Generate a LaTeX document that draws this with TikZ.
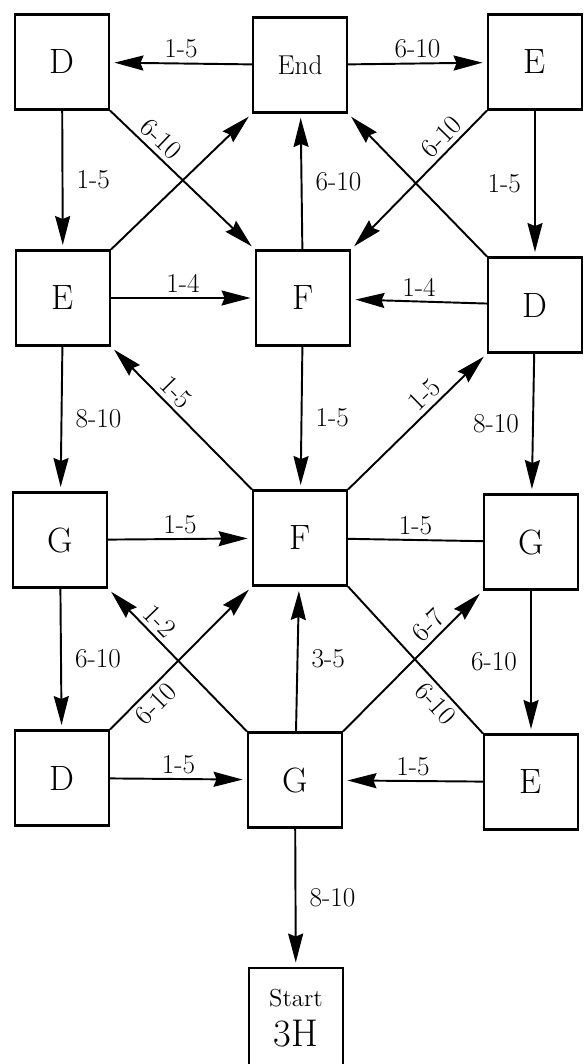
\documentclass[tikz,border=0pt]{standalone}
\usepackage{tikz}
\usetikzlibrary{arrows.meta}

\begin{document}
\begin{tikzpicture}[x=0.02cm, y=-0.02cm,
    box/.style={draw, line width=1.2pt, minimum width=1.88cm, minimum height=1.9cm,
        inner sep=0pt, font=\fontsize{20}{22}\selectfont},
    go/.style={line width=1.1pt, -{Stealth[length=0.58cm, width=0.3cm, inset=0.06cm]}, shorten >=2.5pt},
    link/.style={line width=1.1pt},
    tag/.style={font=\fontsize{15.5}{17}\selectfont, inner sep=0pt, outer xsep=8pt, outer ysep=3pt}]

\useasboundingbox (0,0) rectangle (583,1064);

\foreach \n/\x/\y/\t in {a1/62/62/D, c1/535/62/E,
        a2/63/298/E, b2/303/298/F, c2/535/305/D,
        a3/60/540/G, b3/300/538/F, c3/531/542/G,
        a4/62/778/D, b4/295/780/G, c4/531/782/E}
    \node [box] (\n) at (\x,\y) {\t};

\node [box, font=\fontsize{15.5}{18}\selectfont] (b1) at (300,65) {End};
\node [box, minimum height=2cm, align=center] (b5) at (296,1018)
    {\fontsize{14}{16}\selectfont Start\\[1pt]\fontsize{22}{24}\selectfont 3H};

% straight moves
\foreach \s/\e/\t/\a in {b1/a1/1-5/south, b1/c1/6-10/south,
        a1/a2/1-5/west, c1/c2/1-5/east, b2/b1/6-10/west,
        a2/b2/1-4/south, c2/b2/1-4/south,
        a2/a3/8-10/west, b2/b3/1-5/west, c2/c3/8-10/east,
        a3/b3/1-5/south,
        a3/a4/6-10/west, b4/b3/3-5/west, c3/c4/6-10/east,
        a4/b4/1-5/south, c4/b4/1-5/south,
        b4/b5/8-10/west}
    \draw [go] (\s) -- node [tag, anchor=\a] {\t} (\e);

% diagonal moves
\foreach \s/\e/\t/\p/\a in {a1.south east/b2.north west/6-10/0.28/south,
        c1.south west/b2.north east/6-10/0.26/south,
        b3.north west/a2.south east/1-5/0.61/south,
        b3.north east/c2.south west/1-5/0.62/south,
        b4.north west/a3.south east/1-2/0.70/south,
        a4.north east/b3.south west/6-10/0.25/north,
        b4.north east/c3.south west/6-7/0.68/south}
    \draw [go] (\s) -- node [tag, sloped, pos=\p, anchor=\a] {\t} (\e);

\draw [go] (a2.north east) -- (b1.south west);
\draw [go] (c2.north west) -- (b1.south east);

% no arrow heads here
\draw [link] (b3) -- node [tag, anchor=south] {1-5} (c3);
\draw [link] (b3.south east) -- node [tag, sloped, pos=0.73, anchor=north] {6-10} (c4.north west);

\end{tikzpicture}
\end{document}
